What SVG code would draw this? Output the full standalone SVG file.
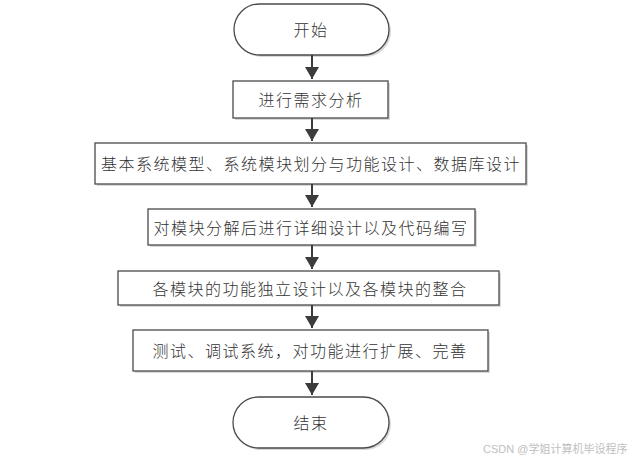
<svg xmlns="http://www.w3.org/2000/svg" width="639" height="460" viewBox="0 0 639 460">
<style>
.box{fill:#fff;stroke:#4a4a4a;stroke-width:1.3}
.sh{fill:#d9d9d9}
.t{font-family:"Liberation Serif","Noto Sans CJK SC",serif;font-size:16px;font-weight:300;fill:#333;text-anchor:middle;dominant-baseline:central;letter-spacing:1.5px}
.c{stroke:#3c3c3c;stroke-width:2;fill:none;marker-end:url(#ah)}
.wm{font-family:"Liberation Sans","Noto Sans CJK SC",sans-serif;font-size:11px;fill:#c0c0c0}
</style>
<defs>
<marker id="ah" markerWidth="7" markerHeight="7" refX="6" refY="3.5" orient="auto" markerUnits="strokeWidth">
<path d="M0,0 L6,3.5 L0,7 Z" fill="#3c3c3c"/>
</marker>
</defs>
<rect width="639" height="460" fill="#fff"/>
<g id="start">
<rect class="sh" x="236" y="6" width="155" height="51" rx="25.5"/>
<rect class="box" x="234" y="4" width="155" height="51" rx="25.5"/>
<text class="t" x="311" y="30">开始</text>
</g>
<g id="n1">
<rect class="sh" x="235" y="83" width="155" height="37"/>
<rect class="box" x="233" y="81" width="155" height="37"/>
<text class="t" x="311" y="100">进行需求分析</text>
</g>
<g id="n2">
<rect class="sh" x="97" y="145" width="431" height="41"/>
<rect class="box" x="95" y="143" width="431" height="41"/>
<text class="t" x="311" y="164">基本系统模型、系统模块划分与功能设计、数据库设计</text>
</g>
<g id="n3">
<rect class="sh" x="150" y="211" width="327" height="36"/>
<rect class="box" x="148" y="209" width="327" height="36"/>
<text class="t" x="311" y="228">对模块分解后进行详细设计以及代码编写</text>
</g>
<g id="n4">
<rect class="sh" x="120" y="273" width="381" height="34"/>
<rect class="box" x="118" y="271" width="381" height="34"/>
<text class="t" x="310" y="289">各模块的功能独立设计以及各模块的整合</text>
</g>
<g id="n5">
<rect class="sh" x="135" y="332" width="355" height="41"/>
<rect class="box" x="133" y="330" width="355" height="41"/>
<text class="t" x="310" y="351">测试、调试系统，对功能进行扩展、完善</text>
</g>
<g id="end">
<rect class="sh" x="235" y="399" width="156" height="51" rx="25.5"/>
<rect class="box" x="233" y="397" width="156" height="51" rx="25.5"/>
<text class="t" x="311" y="423">结束</text>
</g>
<g id="connectors">
<line class="c" x1="312" y1="55" x2="312" y2="79"/>
<line class="c" x1="312" y1="118" x2="312" y2="141"/>
<line class="c" x1="312" y1="184" x2="312" y2="207"/>
<line class="c" x1="312" y1="245" x2="312" y2="269"/>
<line class="c" x1="312" y1="305" x2="312" y2="328"/>
<line class="c" x1="312" y1="371" x2="312" y2="395"/>
</g>
<text class="wm" x="483" y="453">CSDN @学姐计算机毕设程序</text>
</svg>
